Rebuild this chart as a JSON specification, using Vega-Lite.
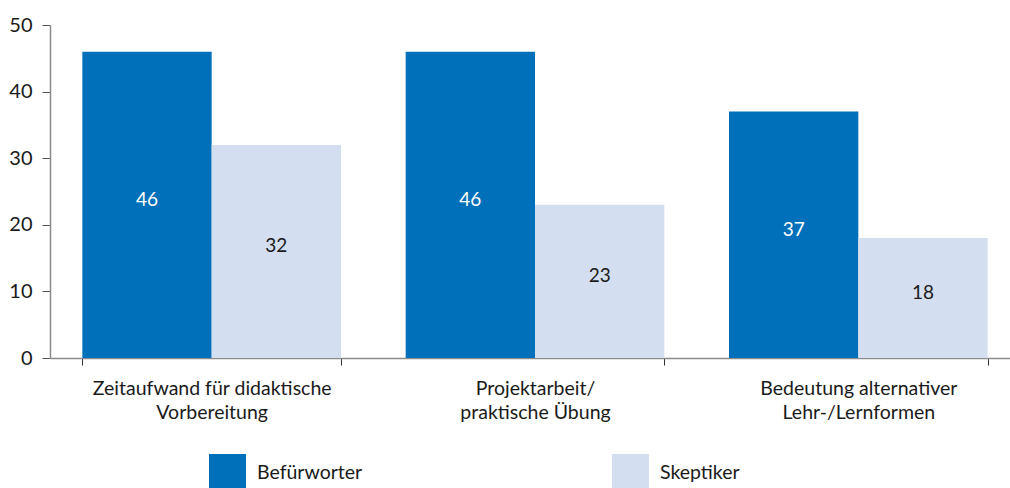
{
  "$schema": "https://vega.github.io/schema/vega-lite/v6.json",
  "width": 970,
  "height": 333,
  "autosize": {"type": "none"},
  "padding": {"left": 50, "top": 25, "right": 0, "bottom": 130},
  "background": "white",
  "config": {
    "view": {"stroke": null},
    "font": "Lato",
    "axis": {"grid": false}
  },
  "data": {
    "values": [
      {"kategorie": "Zeitaufwand für didaktische|Vorbereitung", "gruppe": "Befürworter", "wert": 46},
      {"kategorie": "Zeitaufwand für didaktische|Vorbereitung", "gruppe": "Skeptiker", "wert": 32},
      {"kategorie": "Projektarbeit/|praktische Übung", "gruppe": "Befürworter", "wert": 46},
      {"kategorie": "Projektarbeit/|praktische Übung", "gruppe": "Skeptiker", "wert": 23},
      {"kategorie": "Bedeutung alternativer|Lehr-/Lernformen", "gruppe": "Befürworter", "wert": 37},
      {"kategorie": "Bedeutung alternativer|Lehr-/Lernformen", "gruppe": "Skeptiker", "wert": 18}
    ]
  },
  "encoding": {
    "x": {
      "field": "kategorie",
      "type": "nominal",
      "sort": null,
      "title": null,
      "scale": {"paddingInner": 0.2, "paddingOuter": 0.1},
      "axis": {
        "labelAngle": 0,
        "labelExpr": "split(datum.label, '|')",
        "labelFontSize": 19.5,
        "labelLineHeight": 24,
        "labelColor": "#1a1a1a",
        "labelPadding": 14,
        "tickBand": "extent",
        "tickSize": 7,
        "tickColor": "#333333",
        "domainColor": "#8c8c8c",
        "domainWidth": 1.5,
        "labelLimit": 400
      }
    },
    "xOffset": {"field": "gruppe", "type": "nominal", "sort": ["Befürworter", "Skeptiker"]}
  },
  "layer": [
    {
      "mark": {"type": "bar"},
      "encoding": {
        "y": {
          "field": "wert",
          "type": "quantitative",
          "title": null,
          "scale": {"domain": [0, 50], "nice": false},
          "axis": {
            "values": [0, 5, 10, 15, 20, 25, 30, 35, 40, 45, 50],
            "labelExpr": "datum.value % 10 === 0 ? datum.label : ''",
            "labelFontSize": 20,
            "labelColor": "#1a1a1a",
            "labelPadding": 10,
            "tickSize": 8,
            "tickColor": "#555555",
            "domainColor": "#8c8c8c",
            "domainWidth": 1.5
          }
        },
        "color": {
          "field": "gruppe",
          "type": "nominal",
          "sort": ["Befürworter", "Skeptiker"],
          "scale": {"domain": ["Befürworter", "Skeptiker"], "range": ["#0070BA", "#D3DEF0"]},
          "legend": {
            "title": null,
            "orient": "none",
            "legendX": 159,
            "legendY": 429,
            "direction": "horizontal",
            "symbolType": "square",
            "symbolSize": 1369,
            "symbolStrokeWidth": 0,
            "symbolOpacity": 1,
            "labelFontSize": 19.5,
            "labelColor": "#1a1a1a",
            "labelOffset": 11,
            "columnPadding": 249
          }
        }
      }
    },
    {
      "transform": [{"calculate": "datum.wert / 2", "as": "mitte"}],
      "mark": {"type": "text", "fontSize": 19, "baseline": "middle", "dy": -5},
      "encoding": {
        "y": {"field": "mitte", "type": "quantitative"},
        "text": {"field": "wert", "type": "quantitative"},
        "color": {
          "condition": {"test": "datum.gruppe === 'Befürworter'", "value": "#ffffff"},
          "value": "#1a1a1a"
        }
      }
    }
  ]
}
